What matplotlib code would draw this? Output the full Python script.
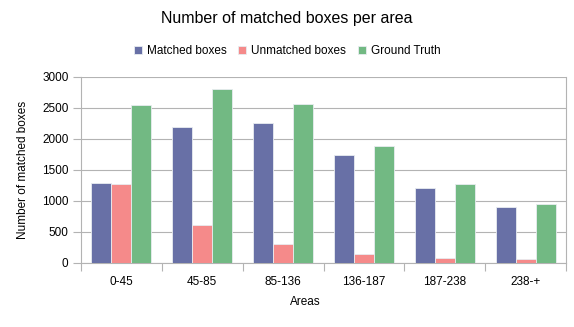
import numpy as np
import matplotlib.pyplot as plt

plt.rcParams['font.family'] = ['Liberation Sans', 'DejaVu Sans']

## chart data ##
areas = ["0-45", "45-85", "85-136", "136-187", "187-238", "238-+"]
matched = [1280, 2195, 2250, 1740, 1195, 893]
unmatched = [1262, 607, 300, 145, 70, 53]
ground_truth = [2535, 2800, 2553, 1880, 1262, 942]

series = [("Matched boxes", matched, "#6870a6"),
          ("Unmatched boxes", unmatched, "#f58a8a"),
          ("Ground Truth", ground_truth, "#72b983")]

fig = plt.figure(figsize=(5.74, 3.27), dpi=100)
ax = fig.add_axes([81 / 574, 1 - 262.5 / 327, 485 / 574, 185.8 / 327])

x = np.arange(len(areas))
width = 0.248
for i, (name, values, color) in enumerate(series):
    ax.bar(x + (i - 1) * width, values, width, color=color, label=name,
           edgecolor="#e8ecf0", linewidth=0.6, zorder=3)

grid_color = "#b3b3b3"
ax.set_xlim(-0.5, len(areas) - 0.5)
ax.set_ylim(0, 3000)
ax.set_yticks(range(0, 3001, 500))
ax.yaxis.grid(True, color=grid_color, linewidth=0.8, zorder=0)
ax.set_xticks(x)
ax.set_xticklabels(areas, fontsize=8.5)
ax.set_xticks(np.arange(-0.5, len(areas)), minor=True)
ax.tick_params(axis="x", which="major", length=0, pad=10)
ax.tick_params(axis="x", which="minor", length=6, color=grid_color, width=0.8)
ax.tick_params(axis="y", length=6, color=grid_color, width=0.8, labelsize=8.5, pad=3)
for side in ["left", "bottom", "right"]:
    ax.spines[side].set_color(grid_color)
    ax.spines[side].set_linewidth(0.8)
ax.spines["top"].set_visible(False)

ax.set_ylabel("Number of matched boxes", fontsize=8.5, labelpad=9)
fig.text(305 / 574, 1 - 302 / 327, "Areas", fontsize=8.5, ha="center", va="center")
fig.text(287 / 574, 1 - 18 / 327, "Number of matched boxes per area", fontsize=11.5,
         ha="center", va="center")

fig.legend(loc="center", bbox_to_anchor=(287 / 574, 1 - 51 / 327), ncol=3, frameon=False,
           fontsize=8.5, handlelength=0.7, handleheight=0.7, handletextpad=0.4,
           columnspacing=1.0)

fig.savefig("out.png", dpi=100)
